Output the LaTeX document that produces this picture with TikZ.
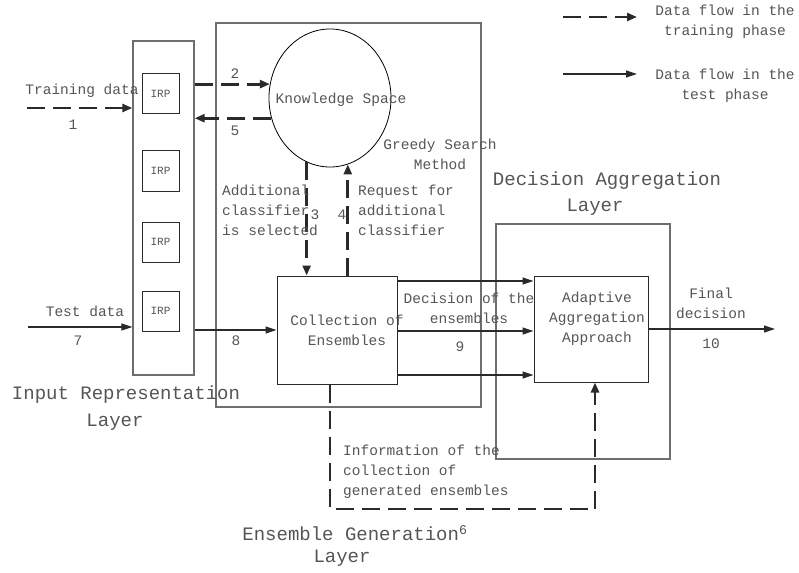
\documentclass[tikz,border=0pt]{standalone}
\usepackage{fontspec}
\setmonofont{Liberation Mono}
\usetikzlibrary{arrows.meta,shapes.geometric,calc}
\definecolor{txt}{HTML}{555555}
\definecolor{layer}{HTML}{6E6E6E}
\definecolor{ink}{HTML}{2A2A2A}
\tikzset{
  lbl/.style={font=\ttfamily\fontsize{14.5}{20}\selectfont, text=txt, inner sep=0pt},
  big/.style={font=\ttfamily\fontsize{19}{26}\selectfont, text=txt, inner sep=0pt},
  layerbox/.style={draw=layer, line width=1.3pt, inner sep=0pt},
  unitbox/.style={draw=ink, line width=1pt, inner sep=0pt},
  irpbox/.style={draw=ink, line width=1pt, minimum width=37pt, minimum height=40pt,
    inner sep=0pt, font=\ttfamily\fontsize{11}{13}\selectfont, text=txt},
  testflow/.style={draw=ink, line width=1.2pt, -{Triangle[length=11pt,width=7pt]}},
  trainflow/.style={draw=ink, line width=2.8pt, dash pattern=on 18pt off 8pt,
    -{Triangle[length=10pt,width=8pt]}},
}
\begin{document}
\begin{tikzpicture}[x=1pt,y=-1pt]
\path[use as bounding box] (0,0) rectangle (799,572);

% layers
\node[layerbox, minimum width=61pt, minimum height=334pt] (inlayer) at (163.5,208) {};
\node[layerbox, minimum width=265pt, minimum height=384pt] (enslayer) at (348.5,215) {};
\node[layerbox, minimum width=174pt, minimum height=235pt] (declayer) at (583,341.5) {};

% input representation units
\node[irpbox] (irp1) at (160.5,94) {IRP};
\node[irpbox] (irp2) at (160.5,171) {IRP};
\node[irpbox] (irp3) at (160.5,242) {IRP};
\node[irpbox] (irp4) at (160.5,311) {IRP};

% knowledge space and units
\node[draw=black, line width=0.8pt, ellipse, minimum width=122pt, minimum height=138pt, inner sep=0pt] (ks) at (330,98) {};
\node[lbl] (kslabel) at (341,100) {Knowledge Space};
\node[unitbox, minimum width=120pt, minimum height=108pt] (coll) at (337,330) {};
\node[lbl, align=center] (colllabel) at (347,330) {Collection of\\Ensembles};
\node[unitbox, minimum width=114pt, minimum height=106pt] (adapt) at (591,329) {};
\node[lbl, align=center] (adaptlabel) at (597,319) {Adaptive\\Aggregation\\Approach};

% layer titles
\node[big] (inlab1) at (126,395) {Input Representation};
\node[big] (inlab2) at (115,422) {Layer};
\node[big] (enslab1) at (355,533) {Ensemble Generation\textsuperscript{6}};
\node[big] (enslab2) at (342,558) {Layer};
\node[big] (declab1) at (607,181) {Decision Aggregation};
\node[big] (declab2) at (595,207) {Layer};

% free ends
\coordinate (trainin) at (27,108);
\coordinate (testin) at (28,327);
\coordinate (finalout) at (775,329);
\coordinate (infocorner) at (595,509);
\coordinate (lg1a) at (563,17);
\coordinate (lg1b) at (637,17);
\coordinate (lg2a) at (563,74);
\coordinate (lg2b) at (637,74);

% training phase flows
\draw[trainflow] (trainin) -- (inlayer.west |- trainin);
\draw[trainflow] (inlayer.east |- ks.167) -- (ks.167);
\draw[trainflow] (ks.199) -- (inlayer.east |- ks.199);
\draw[trainflow] (ks.250) -- (ks.250 |- coll.north);
\draw[trainflow] (coll.north -| ks.285) -- (ks.285);
\draw[trainflow] ($(coll.south)+(-7,0)$) |- (infocorner) -- (adapt.south -| infocorner);

% test phase flows
\draw[testflow] (testin) -- (inlayer.west |- testin);
\draw[testflow] (inlayer.east |- coll.west) -- (coll.west);
\foreach \dy in {-49,1,45}
  \draw[testflow] ($(coll.east)+(0,\dy)$) -- ($(adapt.west |- coll.east)+(0,\dy)$);
\draw[testflow] (adapt.east) -- (finalout);

% legend
\draw[trainflow] (lg1a) -- (lg1b);
\draw[testflow] (lg2a) -- (lg2b);
\node[lbl, align=center] (lgtext1) at (725,22) {Data flow in the\\training phase};
\node[lbl, align=center] (lgtext2) at (725,86) {Data flow in the\\test phase};

% flow labels
\node[lbl] (trainlab) at (82,91) {Training data};
\node[lbl] (n1) at (73,125) {1};
\node[lbl] (n2) at (235,74) {2};
\node[lbl] (n5) at (235,131) {5};
\node[lbl] (n3) at (315,215) {3};
\node[lbl] (n4) at (342,215) {4};
\node[lbl, align=left, anchor=west] (selab) at (222,210) {Additional\\classifier\\is selected};
\node[lbl, align=left, anchor=west] (reqlab) at (358,210) {Request for\\additional\\classifier};
\node[lbl, align=center] (greedy) at (440,154) {Greedy Search\\Method};
\node[lbl] (testlab) at (85,311) {Test data};
\node[lbl] (n7) at (78,341) {7};
\node[lbl] (n8) at (236,341) {8};
\node[lbl, align=center] (declab) at (469,308) {Decision of the\\ensembles};
\node[lbl] (n9) at (460,347) {9};
\node[lbl, align=center] (finallab) at (711,303) {Final\\decision};
\node[lbl] (n10) at (711,344) {10};
\node[lbl, align=left, anchor=west] (infolab) at (343,472) {Information of the\\collection of\\generated ensembles};
\end{tikzpicture}
\end{document}
